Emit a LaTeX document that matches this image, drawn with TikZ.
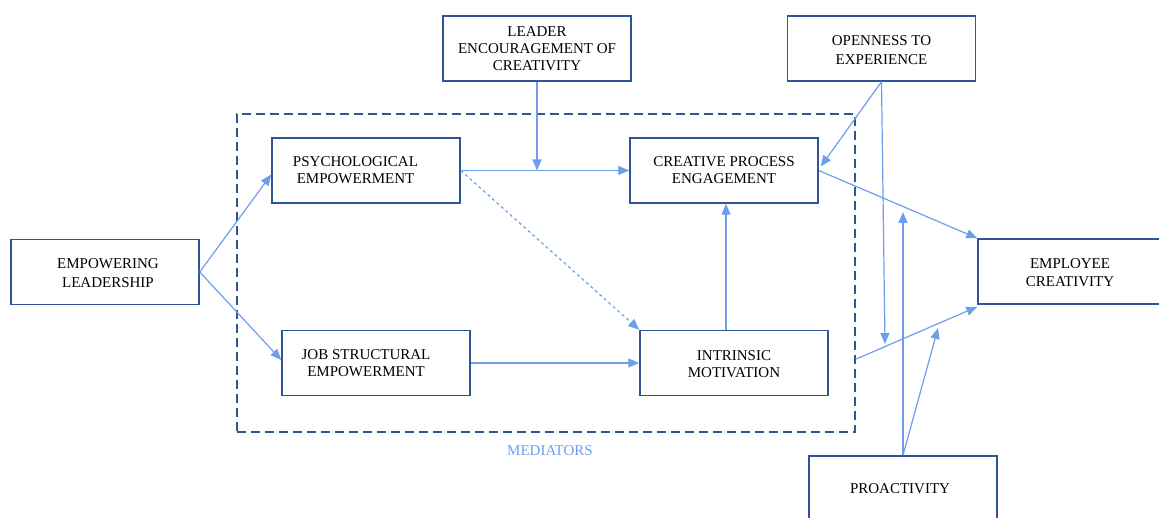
\documentclass[tikz,border=0pt]{standalone}
\usepackage{fontspec}
\setmainfont{Liberation Serif}
\usetikzlibrary{arrows.meta,calc}
\definecolor{boxblue}{HTML}{2F5597}
\definecolor{linkblue}{HTML}{6D9EEB}
% box caption: #1 horizontal offset, #2 downward offset, #3 lines
\newcommand\boxlines[3]{%
  \kern#1\raisebox{-#2}[\height][\depth]{\begin{tabular}{@{}c@{}}#3\end{tabular}}\kern-#1}
\begin{document}
\begin{tikzpicture}[x=1pt,y=-1pt,
  box/.style={draw=boxblue,line width=1.5pt,minimum width=188pt,minimum height=65pt,
    inner sep=0pt,font=\fontsize{15}{17}\selectfont},
  widebox/.style={box,font=\fontsize{15}{18.5}\selectfont},
  group/.style={draw=boxblue,line width=2.5pt,dash pattern=on 9pt off 5pt,
    minimum width=618pt,minimum height=318pt,inner sep=0pt},
  link/.style={draw=linkblue,line width=1.2pt,-{Triangle[length=11pt,width=9pt]}},
  hint/.style={link,dash pattern=on 3pt off 3pt},
  tag/.style={text=linkblue,inner sep=0pt,font=\fontsize{15}{17}\selectfont}]
\useasboundingbox (0,0) rectangle (1159,518);

% mediator group
\node[group] (med) at (546,273) {};
\node[tag] (medlabel) at (550,451) {MEDIATORS};

% constructs
\node[box] (leader) at (537,48.5) {\boxlines{0pt}{2pt}{LEADER\\ENCOURAGEMENT OF\\CREATIVITY}};
\node[widebox] (open) at (881.5,48.5) {\boxlines{0pt}{3pt}{OPENNESS TO\\EXPERIENCE}};
\node[box] (psych) at (366,170.5) {\boxlines{-10.5pt}{1.5pt}{PSYCHOLOGICAL\\EMPOWERMENT}};
\node[box] (creative) at (724,170.5) {\boxlines{0pt}{1.5pt}{CREATIVE PROCESS\\ENGAGEMENT}};
\node[widebox] (emp) at (105,272) {\boxlines{3pt}{2.5pt}{EMPOWERING\\LEADERSHIP}};
\node[widebox,minimum width=184pt] (employee) at (1070,271.5) {\boxlines{0pt}{2.5pt}{EMPLOYEE\\CREATIVITY}};
\node[box] (job) at (376,363) {\boxlines{-10pt}{2pt}{JOB STRUCTURAL\\EMPOWERMENT}};
\node[box] (intr) at (734,363) {\boxlines{0pt}{3pt}{INTRINSIC\\MOTIVATION}};
\node[box,minimum height=68pt] (proact) at (903,490) {\boxlines{-3pt}{0pt}{PROACTIVITY}};

% free ends of the moderation arrows
\coordinate (openmod) at (885,344);
\coordinate (promodA) at (903,212);
\coordinate (promodB) at (938,328);
\coordinate (medout) at ($(med.east |- intr.east)+(0,-4)$);
\coordinate (creativein) at ($(creative.south)+(2,0)$);

% paths
\draw[link] (emp.east) -- ($(psych.west)+(0,4)$);
\draw[link] (emp.east) -- ($(job.west)+(0,-3)$);
\draw[link] (psych.east) -- (creative.west);
\draw[link] (leader.south) -- (leader.south |- psych.east);
\draw[hint] (psych.east) -- (intr.north west);
\draw[link] (job.east) -- (intr.west);
\draw[link] (intr.north -| creativein) -- (creativein);
\draw[link] (creative.east) -- (employee.north west);
\draw[link] (open.south) -- ($(creative.east)+(2,-4)$);
\draw[link] (open.south) -- (openmod);
\draw[link] (proact.north) -- (promodA);
\draw[link] (proact.north) -- (promodB);
\draw[link] (medout) -- ($(employee.south west)+(0,2)$);
\end{tikzpicture}
\end{document}
